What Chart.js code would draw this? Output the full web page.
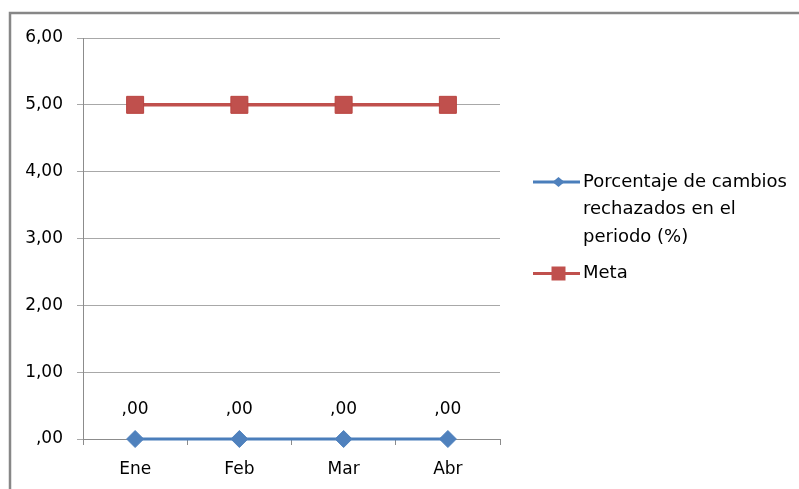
<!DOCTYPE html>
<html>
<head>
<meta charset="utf-8">
<script src="https://cdn.jsdelivr.net/npm/chart.js@4/dist/chart.umd.min.js"></script>
<style>
  html, body { margin: 0; padding: 0; background: #fff; }
  #wrap { position: relative; width: 799px; height: 489px; }
</style>
</head>
<body>
<div id="wrap"><canvas id="c" width="799" height="489"></canvas></div>
<script>
// Months on the category axis
const months = ['Ene', 'Feb', 'Mar', 'Abr'];
// Percentage of rejected changes per month
const rejectedPct = [0, 0, 0, 0];
// Target value per month
const target = [5, 5, 5, 5];
// Value axis range
const yMin = 0, yMax = 6, yStep = 1;

const seriesNames = ['Porcentaje de cambios rechazados en el periodo (%)', 'Meta'];
const FONT = '"DejaVu Sans", Verdana, sans-serif';
const TEXT = '#000';

// Spanish number format as the spreadsheet shows it: 5 -> "5,00", 0 -> ",00"
function fmt(v) {
  let s = Number(v).toFixed(2).replace('.', ',');
  if (s.startsWith('0')) s = s.slice(1);
  return s;
}

// Outer frame of the chart object
const framePlugin = {
  id: 'frame',
  beforeDraw(chart) {
    const ctx = chart.ctx;
    ctx.save();
    ctx.strokeStyle = '#878787';
    ctx.lineWidth = 2.5;
    ctx.beginPath();
    ctx.moveTo(10, chart.height + 5);
    ctx.lineTo(10, 13);
    ctx.lineTo(chart.width + 5, 13);
    ctx.stroke();
    ctx.restore();
  }
};

// Value labels above the first series
const valueLabels = {
  id: 'valueLabels',
  afterDatasetsDraw(chart) {
    const ctx = chart.ctx;
    const meta = chart.getDatasetMeta(0);
    const data = chart.data.datasets[0].data;
    ctx.save();
    ctx.font = '17px ' + FONT;
    ctx.fillStyle = TEXT;
    ctx.textAlign = 'center';
    ctx.textBaseline = 'middle';
    meta.data.forEach((pt, i) => {
      ctx.fillText(fmt(data[i]), pt.x, pt.y - 29);
    });
    ctx.restore();
  }
};

// Legend to the right of the plot, with wrapped series names
const sideLegend = {
  id: 'sideLegend',
  afterDraw(chart) {
    const ctx = chart.ctx;
    const x0 = chart.chartArea.right + 33;
    const lineLen = 47;
    const textX = x0 + lineLen + 3;
    const maxW = 212;
    const lh = 27.5;
    let y = 182;
    ctx.save();
    ctx.font = '18px ' + FONT;
    ctx.textBaseline = 'middle';
    ctx.textAlign = 'left';
    chart.data.datasets.forEach((ds) => {
      const words = ds.label.split(' ');
      const lines = [];
      let cur = '';
      words.forEach(w => {
        const t = cur ? cur + ' ' + w : w;
        if (ctx.measureText(t).width > maxW && cur) { lines.push(cur); cur = w; }
        else cur = t;
      });
      if (cur) lines.push(cur);
      // sample line
      ctx.strokeStyle = ds.borderColor;
      ctx.lineWidth = 3;
      ctx.beginPath();
      ctx.moveTo(x0, y);
      ctx.lineTo(x0 + lineLen, y);
      ctx.stroke();
      // sample marker
      const cx = x0 + lineLen / 2 + 2;
      ctx.fillStyle = ds.pointBackgroundColor;
      ctx.beginPath();
      if (ds.pointStyle === 'rect') {
        const h = 7;
        ctx.rect(cx - h, y - h, 2 * h, 2 * h);
      } else {
        const r = 6;
        ctx.moveTo(cx - r, y); ctx.lineTo(cx, y - r + 1); ctx.lineTo(cx + r, y); ctx.lineTo(cx, y + r - 1); ctx.closePath();
      }
      ctx.fill();
      ctx.fillStyle = TEXT;
      lines.forEach((ln, li) => ctx.fillText(ln, textX, y + li * lh));
      y += lines.length * lh + 9;
    });
    ctx.restore();
  }
};

new Chart(document.getElementById('c'), {
  type: 'line',
  data: {
    labels: months,
    datasets: [
      {
        label: seriesNames[0],
        data: rejectedPct,
        borderColor: '#4A7EBB',
        backgroundColor: '#4F81BD',
        pointBackgroundColor: '#4F81BD',
        pointBorderColor: '#4F81BD',
        pointStyle: 'rectRot',
        pointRadius: 8.5,
        pointBorderWidth: 1,
        borderWidth: 3,
        tension: 0,
        clip: false
      },
      {
        label: seriesNames[1],
        data: target,
        borderColor: '#C0504D',
        backgroundColor: '#C0504D',
        pointBackgroundColor: '#C0504D',
        pointBorderColor: '#B9433F',
        pointStyle: 'rect',
        pointRadius: 12,
        pointBorderWidth: 1,
        borderWidth: 3.5,
        tension: 0,
        clip: false
      }
    ]
  },
  options: {
    responsive: false,
    animation: false,
    devicePixelRatio: 1,
    layout: { padding: { left: 0, top: 38, right: 299, bottom: 0 } },
    plugins: {
      legend: { display: false },
      tooltip: { enabled: false }
    },
    scales: {
      x: {
        offset: true,
        grid: {
          offset: true,
          drawOnChartArea: false,
          drawTicks: true,
          tickLength: 6,
          color: '#8c8c8c'
        },
        border: { color: '#8c8c8c', width: 1 },
        ticks: { font: { family: FONT, size: 17 }, color: TEXT, padding: 14 },
        afterFit(s) { s.height = 50; }
      },
      y: {
        min: yMin,
        max: yMax,
        ticks: {
          stepSize: yStep,
          font: { family: FONT, size: 17 },
          color: TEXT,
          padding: 14,
          callback: v => fmt(v)
        },
        grid: { color: '#a8a8a8', tickLength: 6 },
        border: { color: '#8c8c8c', width: 1 },
        afterFit(s) { s.width = 83; }
      }
    }
  },
  plugins: [framePlugin, valueLabels, sideLegend]
});
</script>
</body>
</html>
